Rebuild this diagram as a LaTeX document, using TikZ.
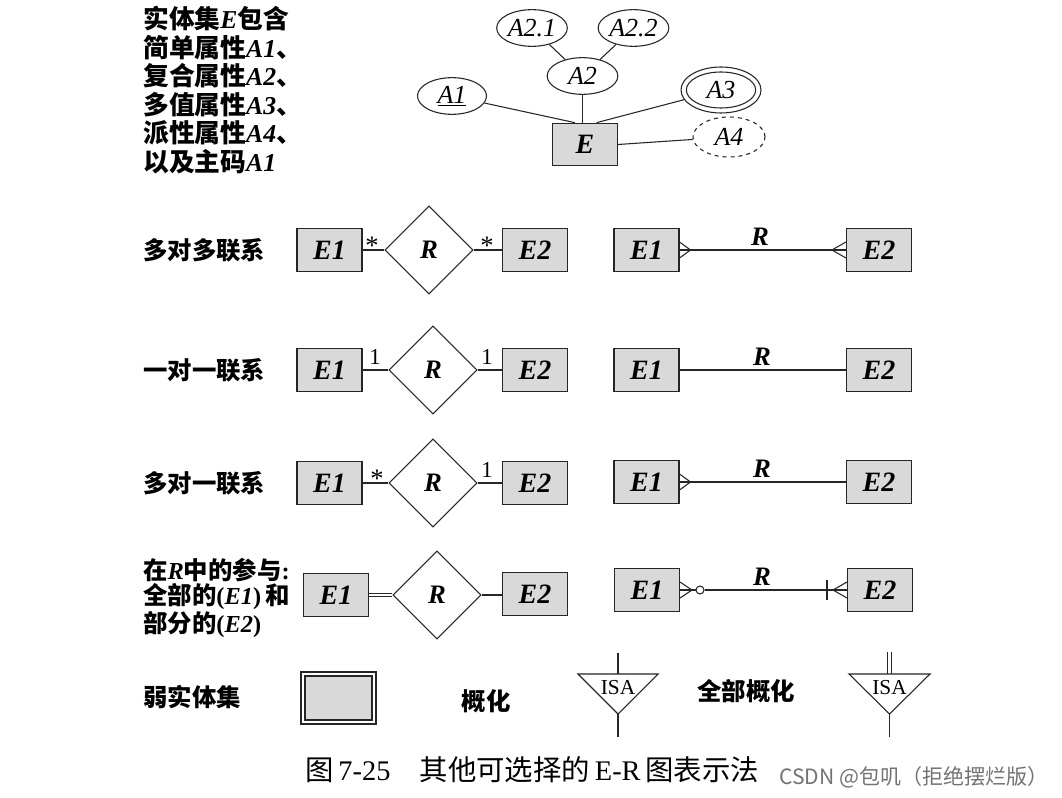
\documentclass[tikz,border=0pt]{standalone}
\usepackage{fontspec}
\setmainfont{Liberation Serif}
\newfontfamily\cjk{Noto Sans CJK SC}
\usetikzlibrary{shapes.geometric,calc}
\newcommand{\la}[1]{{\rmfamily\bfseries\itshape #1}}
\newcommand{\lr}[1]{{\rmfamily #1}}
\begin{document}
\begin{tikzpicture}[x=0.75pt,y=-0.75pt,
  ln/.style={draw=black!85,line width=0.8pt},
  ent/.style={ln,fill=gray!30,minimum width=48.75pt,minimum height=32pt,inner sep=0pt,font=\fontsize{21}{22}\selectfont\bfseries\itshape},
  attr/.style={ln,ellipse,fill=white,minimum width=53pt,minimum height=27.5pt,inner sep=0pt,font=\fontsize{19.5}{20}\selectfont\itshape},
  rel/.style={ln,diamond,minimum width=66pt,minimum height=66pt,inner sep=0pt,font=\fontsize{20}{22}\selectfont\bfseries\itshape},
  lbl/.style={anchor=west,inner sep=0pt,font=\cjk\bfseries\fontsize{18.3}{24}\selectfont},
  tlbl/.style={anchor=west,inner sep=0pt,font=\cjk\bfseries\fontsize{19.3}{24}\selectfont},
  card/.style={inner sep=0pt,font=\fontsize{17}{18}\selectfont},
  star/.style={inner sep=0pt,font=\fontsize{20}{20}\selectfont},
  rl/.style={inner sep=0pt,font=\fontsize{20}{22}\selectfont\bfseries\itshape},
]
\useasboundingbox (0,0) rectangle (1062,798);
\fill[white] (0,0) rectangle (1062,798);

% ---------- top-left description ----------
\node[tlbl] (t1) at (143,19) {实体集\la{E}包含};
\node[tlbl] (t2) at (143,47.5) {简单属性\la{A1}、};
\node[tlbl] (t3) at (143,76) {复合属性\la{A2}、};
\node[tlbl] (t4) at (143,104.5) {多值属性\la{A3}、};
\node[tlbl] (t5) at (143,133) {派性属性\la{A4}、};
\node[tlbl] (t6) at (143,161.5) {以及主码\la{A1}};

% ---------- top ER ----------
\node[ent] (E) at (585,144.5) {E};
\node[attr,minimum width=51.75pt] (A1) at (452,96) {\underline{A1}};
\node[attr] (A2) at (582.5,76) {A2};
\node[attr] (A21) at (532,28) {A2.1};
\node[attr] (A22) at (633.5,28) {A2.2};
\node[attr,minimum width=60pt,minimum height=34.5pt] (A3) at (721,90) {};
\node[attr,minimum width=52pt,minimum height=27pt] (A3i) at (721,90) {A3};
\node[attr,dashed,minimum width=54pt,minimum height=30pt] (A4) at (729,137) {A4};
\draw[ln] (A21) -- (A2);
\draw[ln] (A22) -- (A2);
\draw[ln] (A1) -- (E.115);
\draw[ln] (A2.south) -- (A2.south |- E.north);
\draw[ln] (A3) -- (E.62);
\draw[ln] (E.east) -- (A4);

% ---------- row labels ----------
\node[lbl] (l1) at (143,250) {多对多联系};
\node[lbl] (l2) at (143,370) {一对一联系};
\node[lbl] (l3) at (143,483) {多对一联系};
\node[lbl] (l4a) at (143,570) {在\la{R}中的参与\lr{\bfseries :}};
\node[lbl] (l4b) at (143,597) {全部的\lr{\bfseries (}\la{E1}\lr{\bfseries )}\,和};
\node[lbl] (l4c) at (143,625) {部分的\lr{\bfseries (}\la{E2}\lr{\bfseries )}};
\node[lbl] (l5) at (143,697) {弱实体集};

% ---------- row 1 ----------
\node[ent] (E11) at (329.5,250) {E1};
\node[rel] (R1) at (429,250) {R};
\node[ent] (E12) at (535,250) {E2};
\draw[ln] (E11) -- (R1);
\draw[ln] (R1) -- (E12);
\node[star] (c11) at (372,246) {*};
\node[star] (c12) at (487,246) {*};

\node[ent] (F11) at (646.5,250) {E1};
\node[ent] (F12) at (879,250) {E2};
\draw[ln] (F11) -- (F12);
\node[rl] (r1) at (760,237) {R};
\draw[ln] ($(F11.east)+(0,-8)$) -- ($(F11.east)+(11,0)$) -- ($(F11.east)+(0,8)$);
\draw[ln] ($(F12.west)+(0,-8)$) -- ($(F12.west)+(-14,0)$) -- ($(F12.west)+(0,8)$);

% ---------- row 2 ----------
\node[ent] (E21) at (329.5,370) {E1};
\node[rel] (R2) at (433,370) {R};
\node[ent] (E22) at (535,370) {E2};
\draw[ln] (E21) -- (R2);
\draw[ln] (R2) -- (E22);
\node[card] (c21) at (375,357) {1};
\node[card] (c22) at (487,357) {1};

\node[ent] (F21) at (646.5,370) {E1};
\node[ent] (F22) at (879,370) {E2};
\draw[ln] (F21) -- (F22);
\node[rl] (r2) at (762,357) {R};

% ---------- row 3 ----------
\node[ent] (E31) at (329.5,483) {E1};
\node[rel] (R3) at (433,483) {R};
\node[ent] (E32) at (535,483) {E2};
\draw[ln] (E31) -- (R3);
\draw[ln] (R3) -- (E32);
\node[star] (c31) at (377,479) {*};
\node[card] (c32) at (487,470) {1};

\node[ent] (F31) at (646.5,482) {E1};
\node[ent] (F32) at (879,482) {E2};
\draw[ln] (F31) -- (F32);
\node[rl] (r3) at (762,469) {R};
\draw[ln] ($(F31.east)+(0,-8)$) -- ($(F31.east)+(11,0)$) -- ($(F31.east)+(0,8)$);

% ---------- row 4 ----------
\node[ent] (E41) at (336,595) {E1};
\node[rel] (R4) at (437,595) {R};
\node[ent] (E42) at (535,594) {E2};
\draw[ln,double=white,double distance=1.8pt] (E41.east) -- (R4.west);
\draw[ln] (R4.east) -- (R4.east -| E42.west);

\node[ent] (F41) at (647,590) {E1};
\node[ent] (F42) at (880,590) {E2};
\node[ln,circle,fill=white,minimum size=6pt,inner sep=0pt] (o4) at ($(F41.east)+(20,0)$) {};
\draw[ln] (F41.east) -- (o4.west);
\draw[ln] (o4.east) -- (F42.west);
\node[rl] (r4) at (762,577) {R};
\draw[ln] ($(F41.east)+(0,-8)$) -- ($(F41.east)+(12,0)$) -- ($(F41.east)+(0,8)$);
\draw[ln] ($(F42.west)+(0,-8)$) -- ($(F42.west)+(-14,0)$) -- ($(F42.west)+(0,8)$);
\draw[ln] ($(F42.west)+(-20,-10)$) -- ($(F42.west)+(-20,10)$);

% ---------- bottom row ----------
\node[ln,minimum width=56.25pt,minimum height=39pt,inner sep=0pt] (W) at (338.5,698) {};
\node[ln,fill=gray!30,minimum width=50.25pt,minimum height=33pt,inner sep=0pt] (Wi) at (338.5,698) {};

\node[inner sep=0pt,font=\cjk\bfseries\fontsize{18.3}{24}\selectfont] (g1l) at (486,701) {概化};
\coordinate (g1a) at (578,674);
\coordinate (g1b) at (658,674);
\coordinate (g1c) at (618,714);
\coordinate (g1t) at (618,653);
\coordinate (g1d) at (618,737);
\draw[ln] (g1a) -- (g1b) -- (g1c) -- cycle;
\draw[ln] (g1t) -- (g1t |- g1a);
\draw[ln] (g1c) -- (g1d);
\node[inner sep=0pt,font=\fontsize{16}{17}\selectfont] (isa1) at (618,688) {ISA};

\node[inner sep=0pt,font=\cjk\bfseries\fontsize{18.3}{24}\selectfont] (g2l) at (746,691) {全部概化};
\coordinate (g2a) at (849,674);
\coordinate (g2b) at (930,674);
\coordinate (g2c) at (889.5,714);
\coordinate (g2t) at (889.5,652);
\coordinate (g2d) at (889.5,737);
\draw[ln] (g2a) -- (g2b) -- (g2c) -- cycle;
\draw[ln] ($(g2t)+(-2.2,0)$) -- ($(g2t |- g2a)+(-2.2,0)$);
\draw[ln] ($(g2t)+(2.2,0)$) -- ($(g2t |- g2a)+(2.2,0)$);
\draw[ln] (g2c) -- (g2d);
\node[inner sep=0pt,font=\fontsize{16}{17}\selectfont] (isa2) at (889.5,688) {ISA};

% ---------- caption ----------
\node[anchor=west,inner sep=0pt,font=\cjk\fontsize{21.3}{24}\selectfont] (cap) at (305,770)
  {图\,\lr{7-25}\hspace{22pt}其他可选择的\,\lr{E-R}\,图表示法};
\node[anchor=east,inner sep=0pt,text=black!55,font=\cjk\fontsize{15.8}{18}\selectfont] (wm) at (1049,777)
  {CSDN @包叽（拒绝摆烂版）};
\end{tikzpicture}
\end{document}
